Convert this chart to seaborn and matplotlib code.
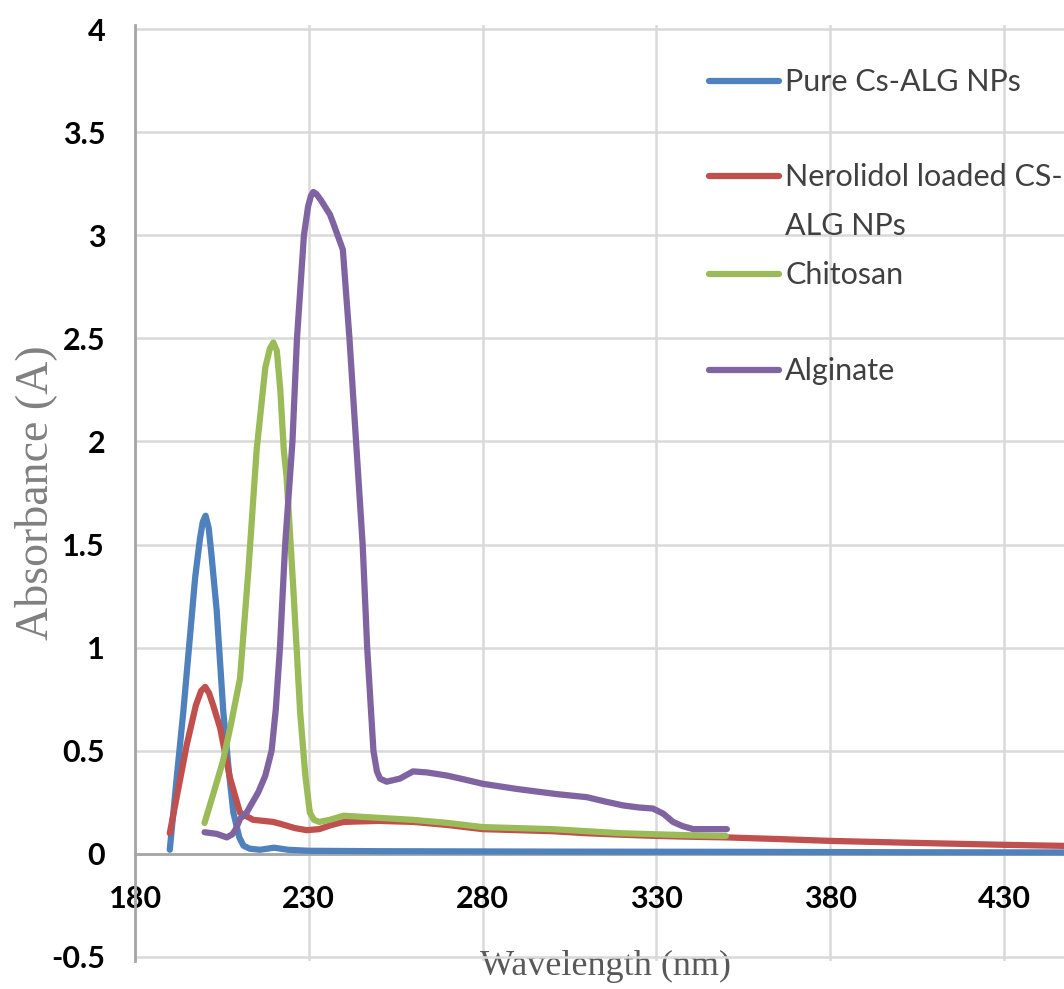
"""UV-Vis absorbance spectra of Cs-ALG nanoparticles and their components"""

import matplotlib
matplotlib.use("Agg")
import matplotlib.pyplot as plt
import pandas as pd
import seaborn as sns
from matplotlib.ticker import MultipleLocator, FuncFormatter

# wavelength (nm) / absorbance (A)
pure_nm = [190, 192, 193.9, 196, 197.3, 198.7, 199.5, 200.3, 201.2, 202, 203.5, 205.4,
           207, 208.3, 210, 211.2, 213, 216, 220, 224, 230, 250, 300, 350, 400, 450]
pure_abs = [0.02, 0.37, 0.69, 1.09, 1.34, 1.53, 1.61, 1.64, 1.58, 1.45, 1.18, 0.69,
            0.40, 0.20, 0.08, 0.04, 0.025, 0.02, 0.03, 0.02, 0.015, 0.013, 0.011, 0.01,
            0.008, 0.007]

nero_nm = [190, 192.5, 194.9, 197.5, 199, 200.2, 201.3, 202.5, 204.5, 207.3, 210.2,
           214, 217, 219.7, 222, 226, 229.4, 233, 236.5, 240, 250, 260, 270, 280, 290,
           300, 310, 320, 330, 340, 350, 365, 380, 400, 430, 450]
nero_abs = [0.10, 0.32, 0.53, 0.72, 0.79, 0.81, 0.78, 0.72, 0.61, 0.37, 0.20,
            0.165, 0.16, 0.155, 0.145, 0.125, 0.115, 0.12, 0.14, 0.155, 0.16, 0.155,
            0.14, 0.12, 0.115, 0.11, 0.10, 0.093, 0.087, 0.083, 0.08, 0.072, 0.063,
            0.055, 0.044, 0.038]

chit_nm = [200, 202.5, 205.3, 207.5, 210.2, 212.6, 215, 217.5, 218.8, 219.8, 220.8,
           221.8, 222.8, 223.6, 225.5, 227.5, 229, 230.3, 231.5, 233, 236, 240, 250,
           260, 270, 280, 290, 300, 310, 320, 330, 340, 350]
chit_abs = [0.15, 0.29, 0.45, 0.62, 0.85, 1.37, 1.96, 2.36, 2.45, 2.48, 2.44,
            2.25, 1.96, 1.83, 1.30, 0.69, 0.38, 0.20, 0.165, 0.155, 0.165, 0.185, 0.175,
            0.165, 0.15, 0.13, 0.125, 0.12, 0.11, 0.10, 0.095, 0.09, 0.087]

alg_nm = [200, 203.5, 206.4, 208, 209, 210.2, 212.1, 215.5, 217.5, 219.3, 220.5,
          221.7, 223.2, 225.3, 226.6, 228.6, 229.8, 230.6, 231.3, 232.2, 233.5, 236.1,
          237, 239.8, 241.7, 243.6, 245.5, 246.8, 248.6, 249.6, 250.5, 252.4, 256.2,
          260, 264, 269.7, 275, 280, 289.8, 301.3, 310, 315, 320.4, 325, 329, 332,
          334.8, 337.5, 340.6, 345, 350.3]
alg_abs = [0.105, 0.097, 0.08, 0.095, 0.12, 0.17, 0.20, 0.30, 0.38, 0.50, 0.70,
           1.0, 1.5, 2.0, 2.5, 3.0, 3.14, 3.19, 3.21, 3.20, 3.17, 3.10,
           3.06, 2.93, 2.5, 2.0, 1.5, 1.0, 0.5, 0.40, 0.365, 0.35, 0.365,
           0.40, 0.395, 0.38, 0.36, 0.34, 0.315, 0.29, 0.275, 0.255, 0.235, 0.225,
           0.22, 0.195, 0.155, 0.135, 0.12, 0.12, 0.12]

series_names = ["Pure Cs-ALG NPs", "Nerolidol loaded CS-ALG NPs", "Chitosan", "Alginate"]
legend_labels = ["Pure Cs-ALG NPs", "Nerolidol loaded CS-\nALG NPs", "Chitosan", "Alginate"]
colors = ["#4F81BD", "#C0504D", "#9BBB59", "#8064A2"]
x_ticks = [180, 230, 280, 330, 380, 430]

frames = []
for name, nm, ab in zip(series_names,
                        [pure_nm, nero_nm, chit_nm, alg_nm],
                        [pure_abs, nero_abs, chit_abs, alg_abs]):
    frames.append(pd.DataFrame({"Wavelength": nm, "Absorbance": ab, "Sample": name}))
df = pd.concat(frames, ignore_index=True)

sns.set_theme(style="white")
plt.rcParams["font.family"] = ["Lato", "DejaVu Sans"]

fig = plt.figure(figsize=(10.64, 9.89), dpi=100)
ax = fig.add_axes([0.1269, 0.0282, 0.8731, 0.9466])

sns.lineplot(data=df, x="Wavelength", y="Absorbance", hue="Sample",
             hue_order=series_names, palette=colors, estimator=None, sort=False,
             linewidth=4.5, legend=False, ax=ax, zorder=3,
             solid_capstyle="round", solid_joinstyle="round")

ax.set_xlim(180, 447.3)
ax.set_ylim(-0.52, 4.02)

# excel-style axes: y axis at 180, x axis crossing at 0
ax.spines[["top", "right"]].set_visible(False)
ax.spines["bottom"].set_position(("data", 0))
for side in ["left", "bottom"]:
    ax.spines[side].set_color("#A6A6A6")
    ax.spines[side].set_linewidth(2)

ax.set_xticks(x_ticks)
ax.xaxis.set_minor_locator(MultipleLocator(10))
ax.yaxis.set_major_locator(MultipleLocator(0.5))
ax.yaxis.set_minor_locator(MultipleLocator(0.1))
ax.yaxis.set_major_formatter(FuncFormatter(lambda v, p: f"{v:g}"))

ax.tick_params(axis="both", which="both", direction="inout", color="#A6A6A6", width=1.5)
ax.tick_params(axis="x", which="both", length=11, pad=17, labelsize=22, labelcolor="black")
ax.tick_params(axis="y", which="major", length=12, pad=15.5, labelsize=22, labelcolor="black")
ax.tick_params(axis="y", which="minor", length=11)
plt.setp(ax.get_xticklabels() + ax.get_yticklabels(), fontweight="bold")

ax.grid(True, which="major", axis="both", color="#D9D9D9", linewidth=1.8)
ax.set_axisbelow(True)

serif = ["Liberation Serif", "DejaVu Serif"]
ax.set_xlabel("Wavelength (nm)", fontfamily=serif, fontsize=26, color="#595959")
ax.xaxis.set_label_coords(0.506, 0.0119)
ax.set_ylabel("Absorbance (A)", fontfamily=serif, fontsize=33, color="#808080")
ax.yaxis.set_label_coords(-0.084, 0.5)

# legend drawn by hand so the handle sits on the first line of a wrapped label
handle_y = [0.9401, 0.8386, 0.7339, 0.6313]
text_top = [0.9545, 0.8530, 0.7483, 0.6458]
for label, color, hy, ty in zip(legend_labels, colors, handle_y, text_top):
    ax.plot([0.618, 0.693], [hy, hy], transform=ax.transAxes, color=color,
            linewidth=4.5, solid_capstyle="round", clip_on=False)
    ax.text(0.700, ty, label, transform=ax.transAxes, fontsize=22, color="#404040",
            ha="left", va="top", linespacing=1.95)

fig.savefig("out.png", dpi=100)
